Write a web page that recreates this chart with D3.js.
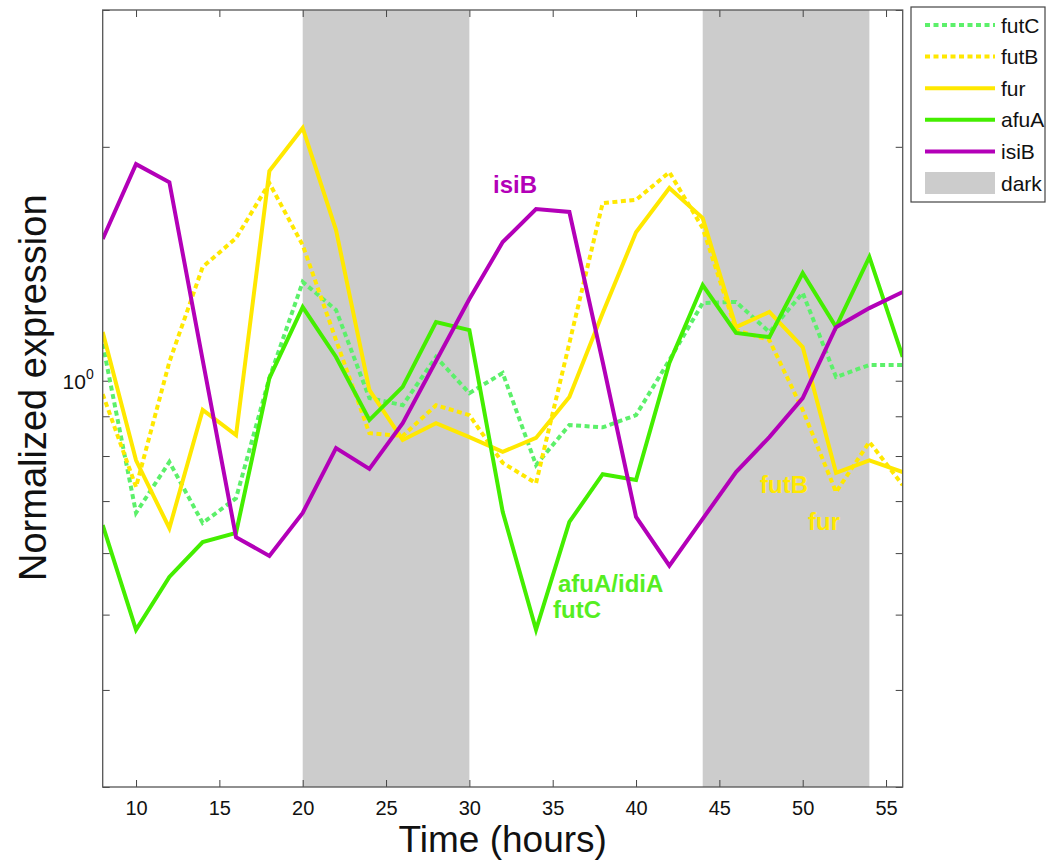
<!DOCTYPE html>
<html>
<head>
<meta charset="utf-8">
<script src="https://cdn.jsdelivr.net/npm/d3@7"></script>
<style>
  body { margin: 0; background: #fff; }
  svg { font-family: "Liberation Sans", Arial, Helvetica, sans-serif; }
</style>
</head>
<body>
<svg id="chart" width="1049" height="860"></svg>
<script>
// time points (hours)
const hours = [8, 10, 12, 14, 16, 18, 20, 22, 24, 26, 28, 30, 32, 34, 36, 38, 40, 42, 44, 46, 48, 50, 52, 54, 56];

// normalized expression per gene
const futC = [1.115, 0.676, 0.786, 0.656, 0.706, 1.008, 1.340, 1.233, 0.950, 0.930, 1.073, 0.964, 1.023,
              0.779, 0.877, 0.871, 0.903, 1.063, 1.259, 1.263, 1.155, 1.297, 1.011, 1.048, 1.048];
const futB = [0.961, 0.730, 1.057, 1.401, 1.526, 1.796, 1.495, 1.128, 0.856, 0.849, 0.930, 0.903, 0.784,
              0.738, 1.118, 1.693, 1.709, 1.855, 1.572, 1.162, 1.128, 0.917, 0.719, 0.834, 0.734];
const fur  = [1.155, 0.790, 0.646, 0.917, 0.851, 1.861, 2.115, 1.563, 0.973, 0.839, 0.882, 0.846, 0.810,
              0.844, 0.953, 1.222, 1.553, 1.770, 1.619, 1.172, 1.226, 1.105, 0.761, 0.790, 0.763];
const afuA = [0.652, 0.478, 0.559, 0.620, 0.637, 1.008, 1.244, 1.073, 0.890, 0.982, 1.190, 1.162, 0.678,
              0.478, 0.658, 0.758, 0.745, 1.054, 1.328, 1.152, 1.138, 1.376, 1.172, 1.443, 1.073];
const isiB = [1.522, 1.900, 1.801, 1.063, 0.629, 0.595, 0.676, 0.819, 0.770, 0.882, 1.060, 1.274, 1.508,
              1.663, 1.649, 1.057, 0.668, 0.578, 0.664, 0.763, 0.846, 0.950, 1.172, 1.240, 1.301];

// dark periods [start, end]
const darkPeriods = [[20, 30], [44, 54]];

const xTicks = [10, 15, 20, 25, 30, 35, 40, 45, 50, 55];
const yTicks = [0.3, 0.4, 0.5, 0.6, 0.7, 0.8, 0.9, 1, 2, 3];

const series = [
  { name: "futC", values: futC, color: "#5cf06a", dash: "5,3.5" },
  { name: "futB", values: futB, color: "#ffe800", dash: "5,3.5" },
  { name: "fur",  values: fur,  color: "#ffe800", dash: null },
  { name: "afuA", values: afuA, color: "#44ee00", dash: null },
  { name: "isiB", values: isiB, color: "#b300b8", dash: null }
];

const labels = [
  { text: "isiB",      x: 493, y: 193, color: "#b300b8" },
  { text: "afuA/idiA", x: 558, y: 592, color: "#55ee22" },
  { text: "futC",      x: 553, y: 618, color: "#55ee22" },
  { text: "futB",      x: 760, y: 493, color: "#ffe800" },
  { text: "fur",       x: 808, y: 530, color: "#ffe800" }
];

const margin = { left: 102.7, top: 10, right: 146.3, bottom: 73 };
const width = 1049 - margin.left - margin.right;
const height = 860 - margin.top - margin.bottom;

const svg = d3.select("#chart");
const g = svg.append("g").attr("transform", `translate(${margin.left},${margin.top})`);

const x = d3.scaleLinear().domain([8, 56]).range([0, width]);
const y = d3.scaleLog().domain([0.3, 3]).range([height, 0]);

g.append("clipPath").attr("id", "plotclip")
  .append("rect").attr("width", width).attr("height", height);

// dark shading
g.selectAll("rect.dark").data(darkPeriods).enter().append("rect")
  .attr("class", "dark")
  .attr("x", d => x(d[0]))
  .attr("width", d => x(d[1]) - x(d[0]))
  .attr("y", 0)
  .attr("height", height)
  .attr("fill", "#cccccc");

// axes
const tickLen = 7;
const xAxisB = g.append("g").attr("transform", `translate(0,${height})`)
  .call(d3.axisBottom(x).tickValues(xTicks).tickSizeInner(-tickLen).tickSizeOuter(0).tickPadding(14));
const xAxisT = g.append("g")
  .call(d3.axisTop(x).tickValues(xTicks).tickSizeInner(-tickLen).tickSizeOuter(0).tickFormat(""));
const yAxisL = g.append("g")
  .call(d3.axisLeft(y).tickValues(yTicks).tickSizeInner(-tickLen).tickSizeOuter(0).tickFormat(""));
const yAxisR = g.append("g").attr("transform", `translate(${width},0)`)
  .call(d3.axisRight(y).tickValues(yTicks).tickSizeInner(-tickLen).tickSizeOuter(0).tickFormat(""));

[xAxisB, xAxisT, yAxisL, yAxisR].forEach(a => {
  a.select(".domain").remove();
  a.selectAll(".tick line").attr("stroke", "#444").attr("stroke-width", 1);
});
xAxisB.selectAll(".tick text").attr("font-size", 20).attr("fill", "#111");

// y label 10^0
const yl = g.append("text")
  .attr("x", -9).attr("y", y(1) + 8)
  .attr("text-anchor", "end")
  .attr("font-size", 21).attr("fill", "#111");
yl.append("tspan").text("10");
yl.append("tspan").attr("dy", -10).attr("font-size", 14).text("0");

// lines
const line = d3.line().x((d, i) => x(hours[i])).y(d => y(d));
const lines = g.append("g").attr("clip-path", "url(#plotclip)");
series.forEach(s => {
  lines.append("path")
    .datum(s.values)
    .attr("d", line)
    .attr("fill", "none")
    .attr("stroke", s.color)
    .attr("stroke-width", 4)
    .attr("stroke-linejoin", "miter")
    .attr("stroke-dasharray", s.dash);
});

// plot box
g.append("rect").attr("width", width).attr("height", height)
  .attr("fill", "none").attr("stroke", "#555").attr("stroke-width", 1.3);

// in-plot gene labels
g.selectAll("text.gene").data(labels).enter().append("text")
  .attr("class", "gene")
  .attr("x", d => d.x - margin.left)
  .attr("y", d => d.y - margin.top)
  .attr("font-size", 24).attr("font-weight", "bold")
  .attr("fill", d => d.color)
  .text(d => d.text);

// axis titles
svg.append("text")
  .attr("x", margin.left + width / 2).attr("y", 852)
  .attr("text-anchor", "middle").attr("font-size", 37).attr("fill", "#111")
  .text("Time (hours)");
svg.append("text")
  .attr("transform", `translate(46,${margin.top + y(1) + 7}) rotate(-90)`)
  .attr("text-anchor", "middle").attr("font-size", 38).attr("fill", "#111")
  .text("Normalized expression");

// legend
const legend = svg.append("g").attr("transform", "translate(911,7)");
legend.append("rect").attr("width", 134).attr("height", 195)
  .attr("fill", "#fff").attr("stroke", "#444").attr("stroke-width", 1.2);
const legendItems = series.concat([{ name: "dark", patch: true }]);
legendItems.forEach((s, i) => {
  const cy = 18 + i * 31.6;
  if (s.patch) {
    legend.append("rect").attr("x", 14).attr("y", cy - 11).attr("width", 70).attr("height", 22)
      .attr("fill", "#cccccc");
  } else {
    legend.append("line").attr("x1", 14).attr("x2", 84).attr("y1", cy).attr("y2", cy)
      .attr("stroke", s.color).attr("stroke-width", 4).attr("stroke-dasharray", s.dash);
  }
  legend.append("text").attr("x", 90).attr("y", cy + 7.5)
    .attr("font-size", 21).attr("fill", "#111").text(s.name);
});
</script>
</body>
</html>
